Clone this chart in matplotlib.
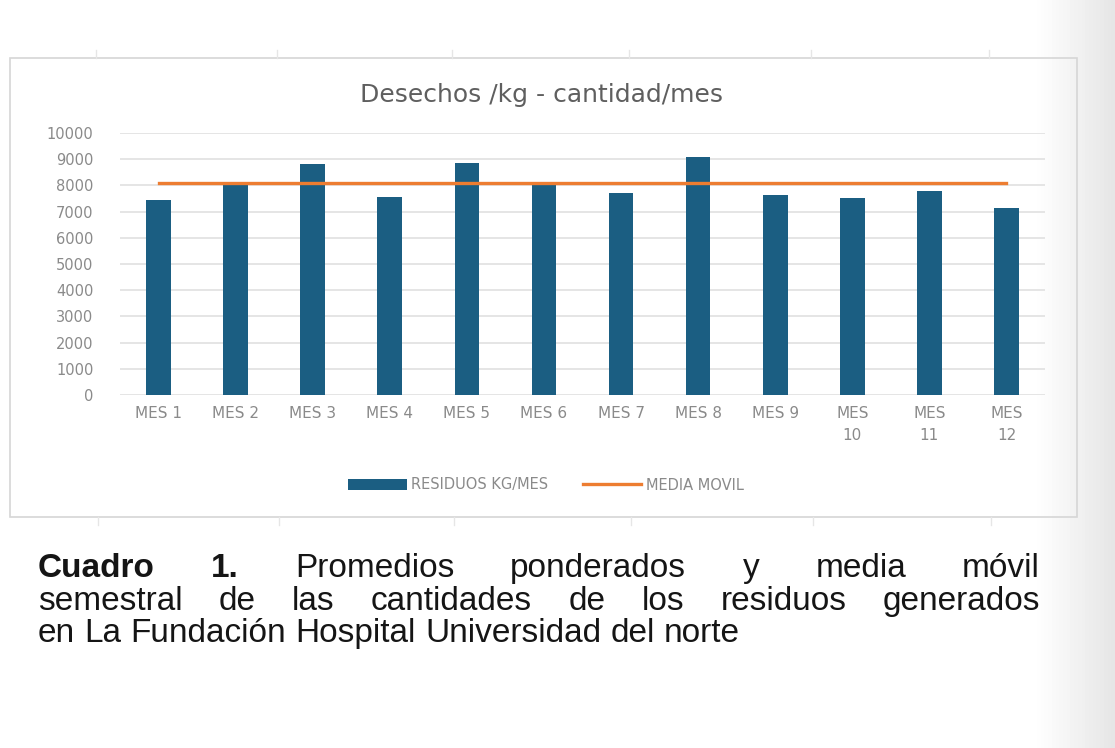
import numpy as np
import matplotlib
matplotlib.use("Agg")
import matplotlib.pyplot as plt
from matplotlib.patches import Rectangle
from matplotlib.lines import Line2D

meses = ["MES 1", "MES 2", "MES 3", "MES 4", "MES 5", "MES 6",
         "MES 7", "MES 8", "MES 9", "MES\n10", "MES\n11", "MES\n12"]
residuos = [7450, 8050, 8800, 7560, 8870, 8050,
            7700, 9070, 7650, 7530, 7780, 7150]
media_movil = [8100] * 12
y_ticks = list(range(0, 10001, 1000))

bar_color = "#1b5e82"
line_color = "#ed7d31"
grey_text = "#8a8a8a"

plt.rcParams["font.family"] = "DejaVu Sans"

W, H = 1115, 748
fig = plt.figure(figsize=(W / 100, H / 100), dpi=100)
fig.patch.set_facecolor("white")

# faint grey shading on the right edge (scanned page look)
bg = fig.add_axes([0, 0, 1, 1], zorder=-10)
xs = np.linspace(0, 1, 300)
grad = np.tile(1 - 0.10 * np.clip((xs - 0.93) / 0.07, 0, 1), (10, 1))
bg.imshow(grad, cmap="gray", vmin=0, vmax=1, aspect="auto", extent=[0, 1, 0, 1])
bg.set_xlim(0, 1)
bg.set_ylim(0, 1)
bg.axis("off")


def fx(px):
    return px / W


def fy(py):
    return 1 - py / H


# chart frame
fig.patches.append(Rectangle((fx(10), fy(517)), fx(1077) - fx(10), fy(58) - fy(517),
                             transform=fig.transFigure, fill=False,
                             edgecolor="#d6d6d6", lw=1.2, zorder=1))
for xp in [96, 277, 452, 629, 811, 989]:
    fig.add_artist(Line2D([fx(xp), fx(xp)], [fy(50), fy(58)], color="#e6e6e6", lw=1))
    fig.add_artist(Line2D([fx(xp + 2), fx(xp + 2)], [fy(517), fy(525)], color="#e6e6e6", lw=1))

ax = fig.add_axes([fx(120), fy(395), fx(1045) - fx(120), fy(133) - fy(395)])
ax.set_facecolor("none")
x = np.arange(len(meses))
bars = ax.bar(x, residuos, width=0.32, color=bar_color, zorder=3, label="RESIDUOS KG/MES")
line, = ax.plot(x, media_movil, color=line_color, lw=2.4, zorder=4, label="MEDIA MOVIL")

ax.set_xlim(-0.5, len(meses) - 0.5)
ax.set_ylim(0, 10000)
ax.set_yticks(y_ticks)
ax.set_xticks(x)
ax.set_xticklabels(meses, linespacing=1.55)
ax.grid(axis="y", color="#dedede", lw=1.1, zorder=0)
for s in ax.spines.values():
    s.set_visible(False)
ax.tick_params(axis="y", length=0, pad=19, labelsize=10.5, labelcolor=grey_text)
ax.tick_params(axis="x", length=0, pad=8, labelsize=11, labelcolor=grey_text)

fig.text(fx(542), fy(95), "Desechos /kg - cantidad/mes", ha="center", va="center",
         fontsize=18, color="#5f5f5f")

fig.legend(handles=[bars, line], loc="center", bbox_to_anchor=(fx(546), fy(485)), ncol=2,
           frameon=False, fontsize=10.5, labelcolor=grey_text, handlelength=4.0,
           handletextpad=0.3, columnspacing=2.4, handleheight=0.7)

# caption with justified lines
cap_font = "Liberation Sans"
cap_size = 24
cap_lines = [
    [("Cuadro", "bold"), ("1.", "bold"), ("Promedios", "normal"), ("ponderados", "normal"),
     ("y", "normal"), ("media", "normal"), ("móvil", "normal")],
    [(w, "normal") for w in "semestral de las cantidades de los residuos generados".split()],
    [(w, "normal") for w in "en La Fundación Hospital Universidad del norte".split()],
]
baselines = [577, 610, 642]
justify = [True, True, False]
left_px, right_px = 38, 1040

renderer = fig.canvas.get_renderer()
for words, yb, just in zip(cap_lines, baselines, justify):
    texts = [fig.text(0, fy(yb), w, fontsize=cap_size, fontweight=wt, family=cap_font,
                      color="#151515", va="baseline", ha="left") for w, wt in words]
    widths = [t.get_window_extent(renderer).width for t in texts]
    if just:
        gap = (right_px - left_px - sum(widths)) / (len(words) - 1)
    else:
        sp = fig.text(0, 0, "a a", fontsize=cap_size, family=cap_font)
        sp2 = fig.text(0, 0, "aa", fontsize=cap_size, family=cap_font)
        gap = sp.get_window_extent(renderer).width - sp2.get_window_extent(renderer).width
        sp.remove()
        sp2.remove()
    xpos = left_px
    for t, w in zip(texts, widths):
        t.set_x(fx(xpos))
        xpos += w + gap

fig.savefig("out.png", dpi=100)
